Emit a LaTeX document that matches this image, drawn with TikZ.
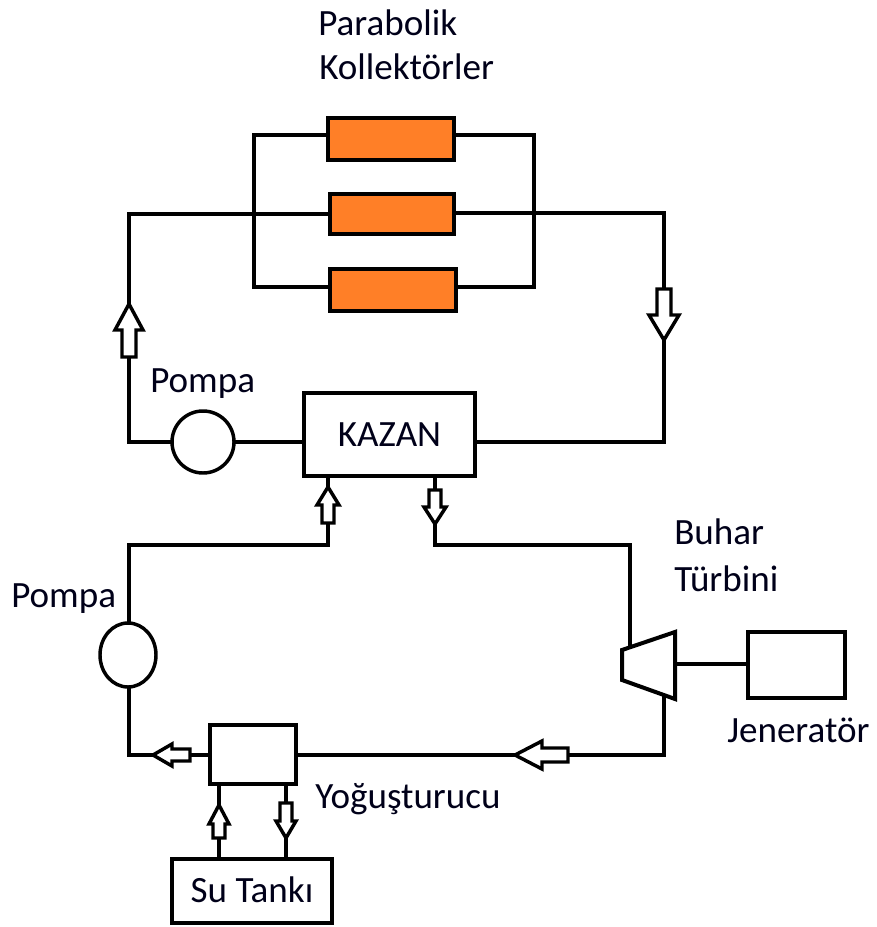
\documentclass[tikz,border=0pt]{standalone}
\usepackage{fontspec}
\setmainfont{Carlito}
\tikzset{
  x=0.75pt,y=-0.75pt,
  conn/.style={line width=3pt,line join=miter,black},
  boxn/.style={draw=black,line width=3pt,fill=white,rectangle,inner sep=0pt,outer sep=0pt,font=\fontsize{27.8pt}{32pt}\selectfont,text=black!90!blue},
  collector/.style={boxn,fill=orangec},
  roundn/.style={draw=black,line width=2.6pt,fill=white,ellipse,inner sep=0pt,outer sep=0pt},
  lab/.style={anchor=base west,inner sep=0pt,font=\fontsize{27.8pt}{32pt}\selectfont,text=black!90!blue},
  blockarrow/.style={draw=black,line width=2.6pt,fill=white,line join=miter,miter limit=10}
}
\usetikzlibrary{shapes.geometric}
\definecolor{orangec}{HTML}{FF7F27}
% name, x1,y1,x2,y2, style, text
\newcommand{\pxbox}[7]{%
  \node[#6,minimum width={(#4-#2)*0.75pt},minimum height={(#5-#3)*0.75pt}] (#1) at ({(#2+#4)/2},{(#3+#5)/2}) {#7};}
% tip x, tip y, rotation (0 = pointing up), length, head length, half head, half shaft
\newcommand{\blockarr}[7]{%
  \draw[blockarrow,shift={(#1,#2)},rotate=#3]
    (0,0) -- (#6,#5) -- (#7,#5) -- (#7,#4) -- (-#7,#4) -- (-#7,#5) -- (-#6,#5) -- cycle;}
\begin{document}
\begin{tikzpicture}
\useasboundingbox (0,0) rectangle (877,927);
\pxbox{c1}{328}{118}{454}{160}{collector}{}
\pxbox{c2}{330}{194}{454}{234}{collector}{}
\pxbox{c3}{330}{269}{456}{311}{collector}{}
\pxbox{kazan}{304}{393}{475}{476}{boxn}{\raisebox{-2.5pt}{KAZAN}}
\pxbox{cond}{210}{725}{296}{784}{boxn}{}
\pxbox{tank}{172}{859}{332}{923}{boxn}{\raisebox{1.5pt}{Su Tankı}}
\pxbox{gen}{748}{632}{845}{698}{boxn}{}
\node[roundn,minimum width=46.5pt,minimum height=46.5pt] (p1) at (203,442) {};
\node[roundn,minimum width=42pt,minimum height=48pt] (p2) at (128,655) {};
\coordinate (tl) at (622,650);
\coordinate (tr) at (675,632);
\coordinate (br) at (675,699);
\coordinate (bl) at (622,680);
\coordinate (tin) at (630,647);
\coordinate (tout) at (664,695);
\coordinate (tsh) at (675,664);
\coordinate (busl) at (254,135);
\coordinate (busr) at (534,135);
\coordinate (busb) at (254,287);
\coordinate (busbr) at (534,287);
\coordinate (left1) at (129,214);
\coordinate (right1) at (664,213);
\coordinate (kin) at (328,476);
\coordinate (kout) at (435,476);
\coordinate (kinb) at (328,545);
\coordinate (koutb) at (435,545);
\coordinate (ct1) at (219,784);
\coordinate (ct2) at (286,784);
\coordinate (cy) at (296,755);
\coordinate (cyl) at (210,755);
\begin{scope}[conn]
\draw (c1.west |- busl) -- (busl) -- (busb) -- (c3.west |- busb);
\draw (c1.east |- busr) -- (busr) -- (busbr) -- (c3.east |- busbr);
\draw (c2.west |- left1) -- (left1) -- (left1 |- p1) -- (p1.west);
\draw (c2.east |- right1) -- (right1) -- (right1 |- p1) -- (kazan.east |- p1);
\draw (p1.east) -- (kazan.west |- p1);
\draw (kin) -- (kinb) -- (kinb -| left1) -- (p2.north -| left1);
\draw (p2.south -| left1) -- (left1 |- cyl) -- (cyl);
\draw (kout) -- (koutb) -- (koutb -| tin) -- (tin);
\draw (cy) -- (cy -| tout) -- (tout);
\draw (tsh) -- (gen.west |- tsh);
\draw (ct1) -- (ct1 |- tank.north);
\draw (ct2) -- (ct2 |- tank.north);
\end{scope}
\draw[conn,fill=white] (tl) -- (tr) -- (br) -- (bl) -- cycle;
\blockarr{129}{304}{0}{53}{26}{14}{7}
\blockarr{664}{340}{0}{-51}{-25}{15}{7}
\blockarr{328}{487}{0}{36}{18}{11}{6}
\blockarr{435}{524}{0}{-34}{-17}{11}{6}
\blockarr{153}{755}{270}{-37}{-19}{11}{6}
\blockarr{515}{755}{270}{-53}{-27}{14}{7}
\blockarr{219}{805}{0}{33}{19}{10}{6}
\blockarr{286}{838}{0}{-35}{-17}{10}{6}
\node[lab] (l1) at (318,36) {Parabolik};
\node[lab] (l2) at (319,80) {Kollektörler};
\node[lab] (l3) at (150,392) {Pompa};
\node[lab] (l4) at (11,607) {Pompa};
\node[lab] (l5) at (674,544) {Buhar};
\node[lab] (l6) at (674,591) {Türbini};
\node[lab] (l7) at (727,742) {Jeneratör};
\node[lab] (l8) at (315,808) {Yoğuşturucu};
\end{tikzpicture}
\end{document}
